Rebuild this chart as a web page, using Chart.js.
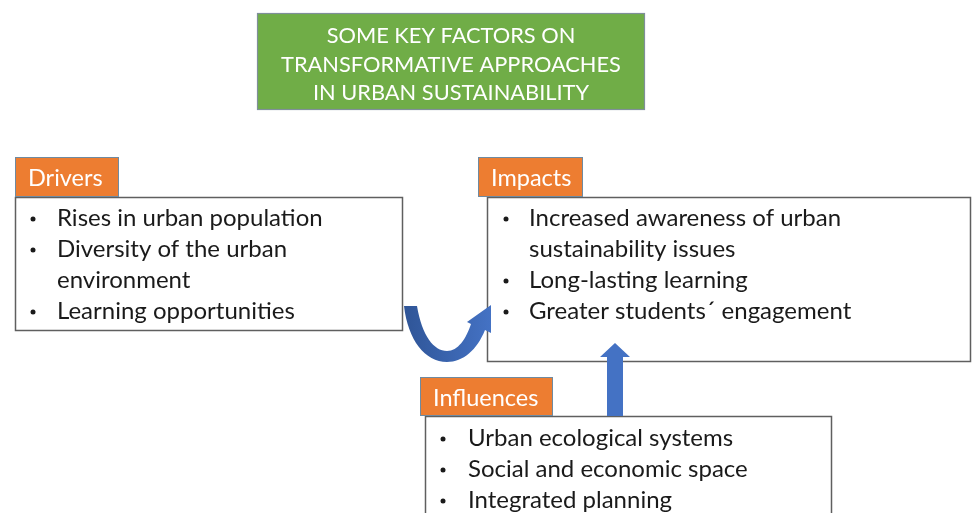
<!DOCTYPE html>
<html lang="en">
<head>
    <meta charset="UTF-8">
    <title>Transformative approaches in urban sustainability</title>
    <script src="https://cdn.jsdelivr.net/npm/chart.js"></script>
    <style>
        html, body { margin: 0; padding: 0; background: #ffffff; }
        #diagrama { display: block; }
    </style>
</head>
<body>

<canvas id="diagrama" width="972" height="513"></canvas>

<script>

    // textos do diagrama
    var tituloLinhas = ['SOME KEY FACTORS ON', 'TRANSFORMATIVE APPROACHES', 'IN URBAN SUSTAINABILITY']

    var rotulos = ['Drivers', 'Impacts', 'Influences']

    var itensDrivers = [
        ['Rises in urban population'],
        ['Diversity of the urban', 'environment'],
        ['Learning opportunities']
    ]
    var itensImpacts = [
        ['Increased awareness of urban', 'sustainability issues'],
        ['Long-lasting learning'],
        ['Greater students\u00b4 engagement']
    ]
    var itensInfluences = [
        ['Urban ecological systems'],
        ['Social and economic space'],
        ['Integrated planning']
    ]

    // caixas (coordenadas em unidades das escalas 0..972 x 0..513)
    var layout = [
        { rotulo: [15, 157, 104, 40], caixa: [15, 197, 388, 134], itens: itensDrivers, bx: 33, tx: 57, y0: 226 },
        { rotulo: [478, 157, 105, 40], caixa: [487, 197, 484, 165], itens: itensImpacts, bx: 506, tx: 529, y0: 226 },
        { rotulo: [420, 377, 133, 39], caixa: [425, 416, 407, 110], itens: itensInfluences, bx: 443, tx: 468, y0: 446 }
    ]

    const FONTE = 'Lato, "Open Sans", sans-serif'

    function px(chart, x) { return chart.scales.x.getPixelForValue(x) }
    function py(chart, y) { return chart.scales.y.getPixelForValue(y) }

    function retangulo(chart, r, fill, stroke, lw) {
        const ctx = chart.ctx
        const x1 = px(chart, r[0]), y1 = py(chart, r[1])
        const x2 = px(chart, r[0] + r[2]), y2 = py(chart, r[1] + r[3])
        if (fill) {
            ctx.fillStyle = fill
            ctx.fillRect(x1, y1, x2 - x1, y2 - y1)
        }
        if (stroke) {
            ctx.strokeStyle = stroke
            ctx.lineWidth = lw
            ctx.strokeRect(x1 + 0.5, y1 + 0.5, x2 - x1 - 1, y2 - y1 - 1)
        }
    }

    function setaCurva(chart) {
        const ctx = chart.ctx
        const X = (v) => px(chart, v), Y = (v) => py(chart, v)
        const grad = ctx.createLinearGradient(X(404), 0, X(491), 0)
        grad.addColorStop(0, '#2F5597')
        grad.addColorStop(1, '#4472C4')
        ctx.beginPath()
        ctx.moveTo(X(404), Y(306))
        ctx.lineTo(X(417), Y(306))
        ctx.bezierCurveTo(X(422), Y(336), X(434), Y(351), X(447), Y(351))
        ctx.bezierCurveTo(X(458), Y(351), X(466), Y(339), X(471), Y(324))
        ctx.lineTo(X(467), Y(322))
        ctx.lineTo(X(491), Y(305))
        ctx.lineTo(X(491), Y(333))
        ctx.lineTo(X(485), Y(330))
        ctx.bezierCurveTo(X(477), Y(350), X(463), Y(362), X(447), Y(362))
        ctx.bezierCurveTo(X(425), Y(362), X(408), Y(340), X(404), Y(306))
        ctx.closePath()
        ctx.fillStyle = grad
        ctx.fill()
    }

    function setaReta(chart) {
        const ctx = chart.ctx
        const X = (v) => px(chart, v), Y = (v) => py(chart, v)
        ctx.beginPath()
        ctx.moveTo(X(607), Y(416))
        ctx.lineTo(X(607), Y(357))
        ctx.lineTo(X(600), Y(357))
        ctx.lineTo(X(615), Y(343))
        ctx.lineTo(X(630), Y(357))
        ctx.lineTo(X(623), Y(357))
        ctx.lineTo(X(623), Y(416))
        ctx.closePath()
        ctx.fillStyle = '#4472C4'
        ctx.fill()
    }

    const pluginDiagrama = {
        id: 'diagrama',
        afterDraw(chart) {
            const ctx = chart.ctx
            ctx.save()

            // titulo
            retangulo(chart, [257, 13, 388, 97], '#70AD47', '#7f8f99', 1.2)
            ctx.fillStyle = '#ffffff'
            ctx.font = '21.8px ' + FONTE
            ctx.textAlign = 'center'
            ctx.textBaseline = 'alphabetic'
            for (var i = 0; i < tituloLinhas.length; i++) {
                ctx.fillText(tituloLinhas[i], px(chart, 451), py(chart, 43 + i * 28.5))
            }

            // caixas com itens
            for (var k = 0; k < layout.length; k++) {
                const b = layout[k]
                retangulo(chart, b.caixa, '#ffffff', '#5f5f5f', 1.5)
                retangulo(chart, b.rotulo, '#ED7D31', '#6f8aa0', 1)

                ctx.fillStyle = '#ffffff'
                ctx.font = '23.5px ' + FONTE
                ctx.textAlign = 'left'
                ctx.fillText(rotulos[k], px(chart, b.rotulo[0] + 13), py(chart, b.rotulo[1] + 29))

                ctx.fillStyle = '#1a1a1a'
                ctx.font = '24px ' + FONTE
                var linha = 0
                for (var j = 0; j < b.itens.length; j++) {
                    const partes = b.itens[j]
                    const yb = py(chart, b.y0 + linha * 31)
                    ctx.beginPath()
                    ctx.arc(px(chart, b.bx), yb - 7, 2.5, 0, Math.PI * 2)
                    ctx.fill()
                    for (var p = 0; p < partes.length; p++) {
                        ctx.fillText(partes[p], px(chart, b.tx), py(chart, b.y0 + linha * 31))
                        linha++
                    }
                }
            }

            setaCurva(chart)
            setaReta(chart)
            ctx.restore()
        }
    }

    const ctxDiagrama = document.getElementById('diagrama')

    var meuDiagrama = new Chart(ctxDiagrama, {
        type: 'scatter',
        data: { datasets: [] },
        options: {
            responsive: false,
            animation: false,
            layout: { padding: 0 },
            scales: {
                x: { type: 'linear', min: 0, max: 972, display: false },
                y: { type: 'linear', min: 0, max: 513, reverse: true, display: false }
            },
            plugins: {
                legend: { display: false },
                tooltip: { enabled: false }
            }
        },
        plugins: [pluginDiagrama]
    });

</script>

</body>
</html>
